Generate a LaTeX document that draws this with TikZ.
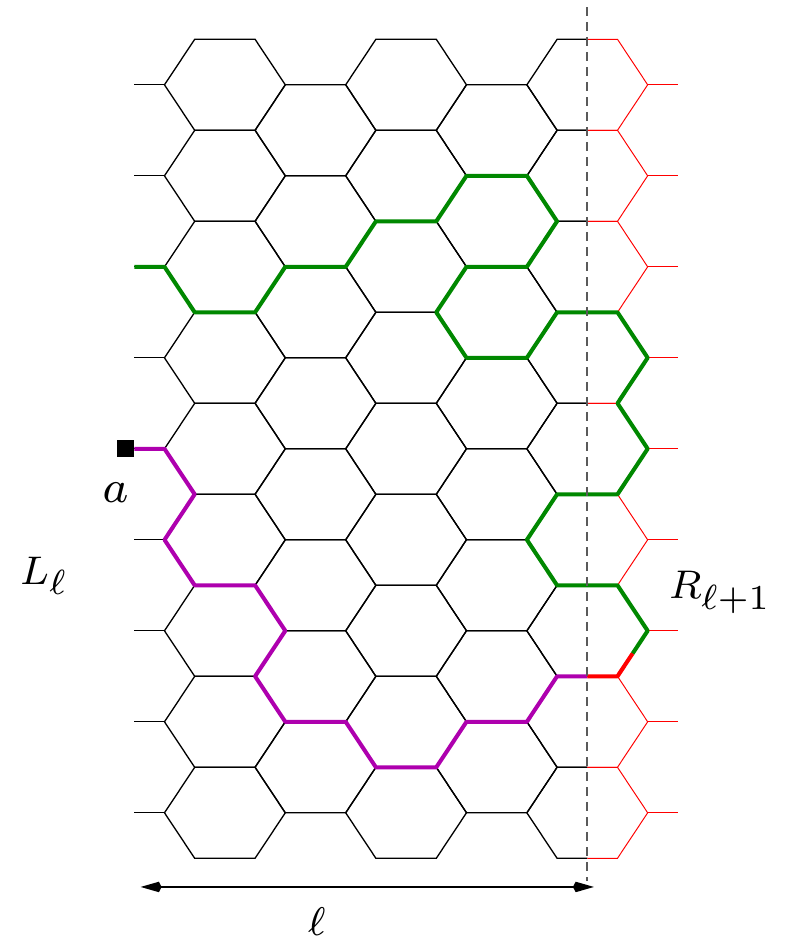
\documentclass[tikz,border=0pt]{standalone}
\usepackage{tikz}
\usetikzlibrary{arrows.meta, positioning}
\definecolor{pathgreen}{RGB}{0, 136, 0}
\definecolor{pathpurple}{RGB}{174, 0, 174}
\definecolor{cutgray}{RGB}{90, 90, 90}
\DeclareMathSizes{8}{8}{7}{5}
\newcommand{\biglabel}[2][2.845]{\scalebox{#1}{\fontsize{8pt}{9.5pt}\selectfont$#2$}}

\begin{document}
\begin{tikzpicture}[
    x=0.604cm, y=-0.91cm,
    edge/.style={black, line width=0.75pt},
    redge/.style={red, line width=0.55pt},
    walk/.style={line width=2.3pt, line join=round},
    lbl/.style={inner sep=0pt},
    cutline/.style={cutgray, line width=1.1pt, dash pattern=on 0.18cm off 0.12cm},
    tip/.tip={Kite[length=0.42cm, width=0.21cm, inset=0.055cm]},
    dimarr/.style={tip-tip, line width=1.5pt}
]
    \useasboundingbox (-5.447,-0.864) rectangle (20.613,19.818);

    % full hexagons, columns 0 to 3
    \foreach \k in {0,...,3} {
        \pgfmathtruncatemacro{\cx}{2+3*\k}
        \pgfmathtruncatemacro{\jo}{1+mod(\k,2)}
        \pgfmathtruncatemacro{\jt}{\jo+2}
        \pgfmathtruncatemacro{\jl}{17-mod(\k,2)}
        \foreach \j in {\jo,\jt,...,\jl}
            \draw[edge] (\cx-2,\j) -- (\cx-1,\j-1) -- (\cx+1,\j-1) -- (\cx+2,\j)
                -- (\cx+1,\j+1) -- (\cx-1,\j+1) -- cycle;
    }

    % column 4 cut in half, stubs on both sides
    \foreach \j in {1,3,...,17} {
        \draw[edge] (14,\j-1) -- (13,\j-1) -- (12,\j) -- (13,\j+1) -- (14,\j+1);
        \draw[redge] (14,\j-1) -- (15,\j-1) -- (16,\j) -- (15,\j+1) -- (14,\j+1);
        \draw[edge] (-1,\j) -- (0,\j);
        \draw[redge] (16,\j) -- (17,\j);
    }

    \node[fill=black, minimum size=0.334cm, inner sep=0pt, anchor=east] (a) at (-1,9) {};
    \node[lbl, anchor=base] (alabel) at (-1.62,10.18) {\biglabel[3.25]{a}};

    \draw[walk, pathgreen] (-1,5) -- (0,5) -- (1,6) -- (3,6) -- (4,5) -- (6,5) -- (7,4)
        -- (9,4) -- (10,3) -- (12,3) -- (13,4) -- (12,5) -- (10,5) -- (9,6) -- (10,7)
        -- (12,7) -- (13,6) -- (15,6) -- (16,7) -- (15,8) -- (16,9) -- (15,10) -- (13,10)
        -- (12,11) -- (13,12) -- (15,12) -- (16,13) -- (15.5,13.5);
    \draw[walk, pathpurple] (a.east) -- (0,9) -- (1,10) -- (0,11) -- (1,12) -- (3,12)
        -- (4,13) -- (3,14) -- (4,15) -- (6,15) -- (7,16) -- (9,16) -- (10,15) -- (12,15)
        -- (13,14) -- (14,14);
    \draw[walk, red] (14,14) -- (15,14) -- (15.5,13.5);

    \coordinate (cuttop) at (14,-0.7);
    \coordinate (cutbot) at (14,18.5);
    \draw[cutline] (cuttop) -- (cutbot);

    \coordinate (ellL) at (-0.79,18.63);
    \coordinate (ellR) at (14.22,18.63);
    \draw[dimarr] (ellL) -- (ellR);

    \node[lbl, anchor=base] (ell) at (5.04,19.70) {\biglabel{\ell}};
    \node[lbl, anchor=base west] (left) at (-4.79,11.98) {\biglabel{L_\ell}};
    \node[lbl, anchor=base west] (right) at (16.70,12.29) {\biglabel{R_{\ell+1}}};
\end{tikzpicture}
\end{document}
